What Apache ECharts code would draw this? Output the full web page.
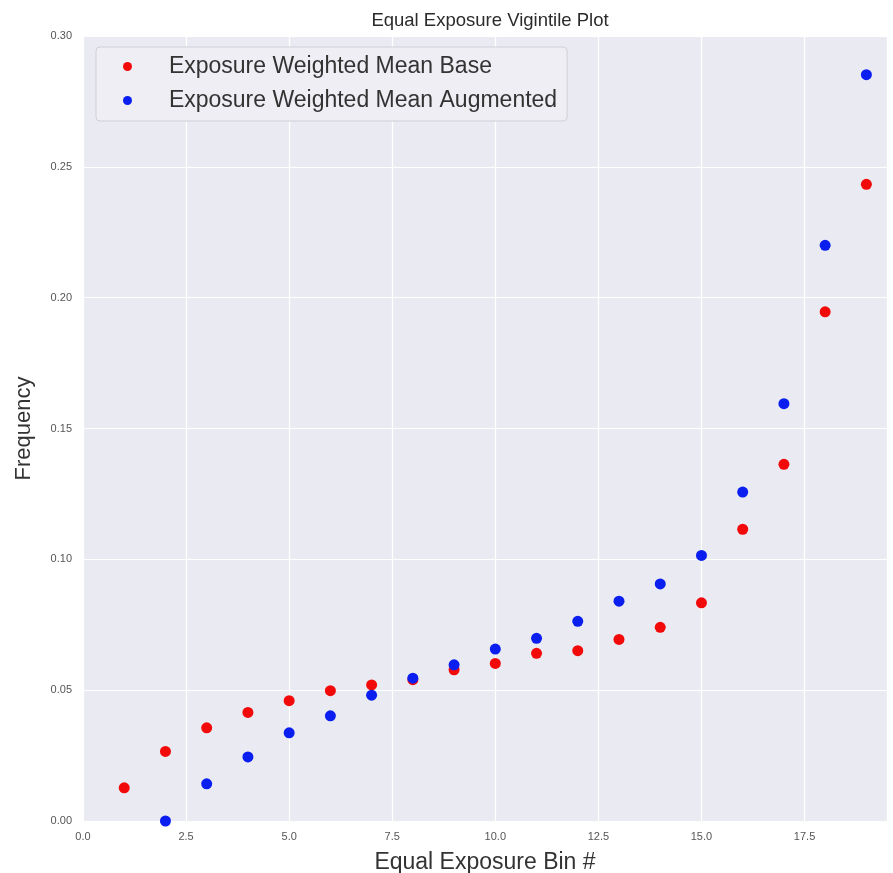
<!DOCTYPE html>
<html>
<head>
<meta charset="utf-8">
<script src="https://cdn.jsdelivr.net/npm/echarts@6/dist/echarts.min.js"></script>
<style>
  html, body { margin: 0; padding: 0; background: #ffffff; }
  #chart { width: 893px; height: 873px; }
</style>
</head>
<body>
<div id="chart"></div>
<script>
const bins = [1, 2, 3, 4, 5, 6, 7, 8, 9, 10, 11, 12, 13, 14, 15, 16, 17, 18, 19];
const baseValues = [0.0127, 0.0266, 0.0356, 0.0415, 0.0460, 0.0498, 0.0520, 0.0540, 0.0578, 0.0602, 0.0641, 0.0651, 0.0694, 0.0740, 0.0834, 0.1115, 0.1363, 0.1946, 0.2433];
const augBinsStart = 2;
const augValues = [0.0000, 0.0142, 0.0245, 0.0337, 0.0402, 0.0481, 0.0546, 0.0597, 0.0657, 0.0698, 0.0763, 0.0840, 0.0906, 0.1015, 0.1257, 0.1595, 0.2200, 0.2852];
const xTicks = [0, 2.5, 5, 7.5, 10, 12.5, 15, 17.5];
const yTicks = [0, 0.05, 0.10, 0.15, 0.20, 0.25, 0.30];

const baseData = bins.map((b, i) => [b, baseValues[i]]);
const augData = augValues.map((v, i) => [augBinsStart + i, v]);

const chart = echarts.init(document.getElementById('chart'), null, { renderer: 'canvas' });
const fontFam = '"Liberation Sans", Arial, sans-serif';

chart.setOption({
  backgroundColor: '#ffffff',
  animation: false,
  title: {
    text: 'Equal Exposure Vigintile Plot',
    left: 485,
    textAlign: 'center',
    top: 6,
    textStyle: { fontFamily: fontFam, fontSize: 18.5, fontWeight: 'normal', color: '#2b2b2b' }
  },
  legend: {
    orient: 'vertical',
    left: 96,
    top: 47,
    padding: [8, 10, 9, 27],
    itemGap: 11,
    itemWidth: 60,
    itemHeight: 9,
    icon: 'circle',
    backgroundColor: '#eeeef4',
    borderColor: '#cfcfd6',
    borderWidth: 1,
    borderRadius: 4,
    textStyle: { fontFamily: fontFam, fontSize: 23, color: '#333333', lineHeight: 23 },
    formatter: name => ' ' + name,
    data: ['Exposure Weighted Mean Base', 'Exposure Weighted Mean Augmented']
  },
  grid: { left: 83, right: 6, top: 36, bottom: 52, show: true, backgroundColor: '#eaeaf2', borderWidth: 0, outerBoundsMode: 'none', containLabel: false },
  xAxis: {
    type: 'value',
    min: 0,
    max: 19.5,
    interval: 2.5,
    name: 'Equal Exposure Bin #',
    nameLocation: 'middle',
    nameGap: 30,
    nameTextStyle: { fontFamily: fontFam, fontSize: 23, color: '#333333' },
    axisLine: { show: false },
    axisTick: { show: false },
    splitLine: { show: true, lineStyle: { color: '#ffffff', width: 1.2 } },
    axisLabel: {
      margin: 10,
      fontFamily: fontFam, fontSize: 11, color: '#555555',
      showMaxLabel: false,
      formatter: v => (xTicks.indexOf(v) >= 0 ? v.toFixed(1) : '')
    }
  },
  yAxis: {
    type: 'value',
    min: 0,
    max: 0.30,
    interval: 0.05,
    name: 'Frequency',
    nameLocation: 'middle',
    nameGap: 48,
    nameTextStyle: { fontFamily: fontFam, fontSize: 22, color: '#333333' },
    axisLine: { show: false },
    axisTick: { show: false },
    splitLine: { show: true, lineStyle: { color: '#ffffff', width: 1.2 } },
    axisLabel: {
      margin: 11,
      fontFamily: fontFam, fontSize: 11, color: '#555555',
      formatter: v => v.toFixed(2)
    }
  },
  series: [
    {
      name: 'Exposure Weighted Mean Base',
      type: 'scatter',
      symbol: 'circle',
      symbolSize: 11,
      itemStyle: { color: '#f20a0a', opacity: 1 },
      data: baseData,
      z: 3
    },
    {
      name: 'Exposure Weighted Mean Augmented',
      type: 'scatter',
      symbol: 'circle',
      symbolSize: 11,
      itemStyle: { color: '#0a1ef0', opacity: 1 },
      data: augData,
      z: 4
    }
  ]
});
</script>
</body>
</html>
